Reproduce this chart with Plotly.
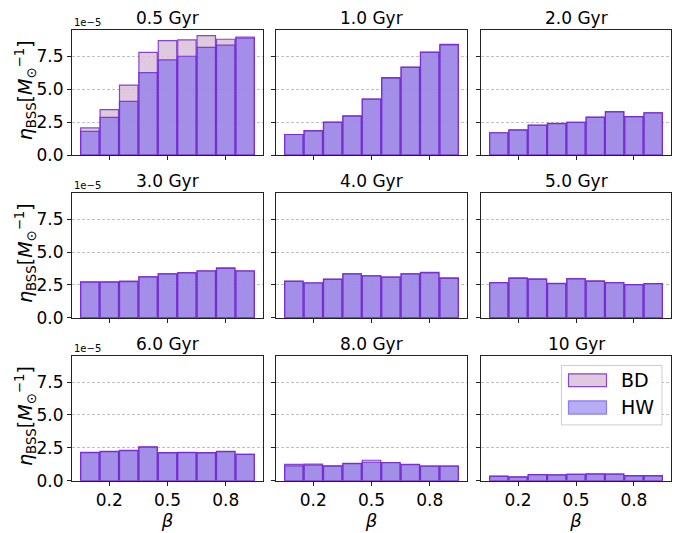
import plotly.graph_objects as go
from plotly.subplots import make_subplots

SCALE = 1e-5
beta = [0.1, 0.2, 0.3, 0.4, 0.5, 0.6, 0.7, 0.8, 0.9]
ages = ["0.5 Gyr", "1.0 Gyr", "2.0 Gyr", "3.0 Gyr", "4.0 Gyr", "5.0 Gyr", "6.0 Gyr", "8.0 Gyr", "10 Gyr"]

# values in units of 1e-5
bd_05 = [2.06, 3.45, 5.31, 7.80, 8.69, 8.74, 9.06, 8.79, 8.96]
hw_05 = [1.79, 2.86, 4.07, 6.26, 7.23, 7.50, 8.17, 8.34, 8.87]
bd_10 = [1.56, 1.86, 2.50, 2.97, 4.25, 5.88, 6.68, 7.82, 8.40]
hw_10 = [1.56, 1.84, 2.48, 2.95, 4.25, 5.84, 6.65, 7.80, 8.37]
bd_20 = [1.69, 1.91, 2.27, 2.40, 2.49, 2.88, 3.29, 2.92, 3.21]
hw_20 = [1.69, 1.89, 2.26, 2.38, 2.48, 2.86, 3.28, 2.91, 3.20]
bd_30 = [2.73, 2.73, 2.80, 3.12, 3.35, 3.44, 3.57, 3.80, 3.57]
hw_30 = [2.72, 2.72, 2.76, 3.12, 3.34, 3.41, 3.56, 3.76, 3.56]
bd_40 = [2.80, 2.67, 2.95, 3.35, 3.20, 3.10, 3.35, 3.46, 3.04]
hw_40 = [2.78, 2.65, 2.93, 3.34, 3.19, 3.09, 3.34, 3.42, 3.00]
bd_50 = [2.68, 3.04, 2.96, 2.62, 2.99, 2.82, 2.68, 2.53, 2.61]
hw_50 = [2.67, 3.00, 2.93, 2.60, 2.97, 2.77, 2.67, 2.52, 2.60]
bd_60 = [2.16, 2.23, 2.31, 2.58, 2.14, 2.16, 2.14, 2.23, 2.01]
hw_60 = [2.14, 2.21, 2.29, 2.56, 2.12, 2.14, 2.12, 2.21, 2.01]
bd_80 = [1.24, 1.26, 1.14, 1.32, 1.56, 1.39, 1.24, 1.12, 1.12]
hw_80 = [1.14, 1.19, 1.12, 1.30, 1.41, 1.37, 1.22, 1.12, 1.12]
bd_100 = [0.35, 0.30, 0.47, 0.45, 0.50, 0.52, 0.50, 0.40, 0.40]
hw_100 = [0.33, 0.28, 0.47, 0.45, 0.48, 0.50, 0.50, 0.38, 0.38]

bd_all = [bd_05, bd_10, bd_20, bd_30, bd_40, bd_50, bd_60, bd_80, bd_100]
hw_all = [hw_05, hw_10, hw_20, hw_30, hw_40, hw_50, hw_60, hw_80, hw_100]

y_ticks = [0.0, 2.5, 5.0, 7.5]
x_ticks = [0.2, 0.5, 0.8]

BD_FILL = "rgba(216,191,216,0.85)"
HW_FILL = "rgba(123,104,238,0.6)"
EDGE = "rgba(118,40,205,0.85)"
FONT = "DejaVu Sans"

W, H = 683, 533
col_px = [(72, 263), (276, 467), (481, 671)]
row_px = [(31, 158), (197, 324), (363, 490)]

fig = make_subplots(rows=3, cols=3)

for i in range(9):
    r, c = i // 3 + 1, i % 3 + 1
    fig.add_trace(go.Bar(x=beta, y=[v * SCALE for v in bd_all[i]], width=0.095,
                         marker=dict(color=BD_FILL, line=dict(color=EDGE, width=1.2)),
                         name="BD", showlegend=False), row=r, col=c)
    fig.add_trace(go.Bar(x=beta, y=[v * SCALE for v in hw_all[i]], width=0.095,
                         marker=dict(color=HW_FILL, line=dict(color=EDGE, width=1.2)),
                         name="HW", showlegend=False), row=r, col=c)

for i in range(9):
    r, c = i // 3, i % 3
    xn = "xaxis" if i == 0 else f"xaxis{i+1}"
    yn = "yaxis" if i == 0 else f"yaxis{i+1}"
    x0, x1 = col_px[c]
    y0, y1 = row_px[r]
    fig.layout[xn].update(
        domain=[x0 / W, x1 / W], range=[0.0078, 0.9922],
        tickvals=x_ticks, ticktext=[f"{t:.1f}" for t in x_ticks],
        showticklabels=(r == 2), ticks="outside", ticklen=4, tickcolor="#222",
        showline=True, mirror=True, linecolor="#222", linewidth=1.2,
        showgrid=False, zeroline=False,
        tickfont=dict(family=FONT, size=17, color="black"),
    )
    if r == 2:
        fig.layout[xn].update(title=dict(text="<i>β</i>", font=dict(family=FONT, size=18, color="black"), standoff=0))
    fig.layout[yn].update(
        domain=[1 - y1 / H, 1 - y0 / H], range=[0, 9.46 * SCALE],
        tickvals=[t * SCALE for t in y_ticks], ticktext=[f"{t:.1f}" for t in y_ticks],
        showticklabels=(c == 0), ticks="outside", ticklen=4, tickcolor="#222",
        showline=True, mirror=True, linecolor="#222", linewidth=1.2,
        showgrid=True, gridcolor="rgba(185,185,185,0.9)", griddash="3px,2px", gridwidth=0.8,
        zeroline=False,
        tickfont=dict(family=FONT, size=17, color="black"),
    )
    xd = "x domain" if i == 0 else f"x{i+1} domain"
    ydd = "y domain" if i == 0 else f"y{i+1} domain"
    fig.add_annotation(text=ages[i], xref=xd, yref=ydd, x=0.5, y=1.0, yanchor="bottom",
                       xanchor="center", showarrow=False, yshift=0,
                       font=dict(family=FONT, size=17, color="black"))
    if c == 0:
        fig.add_annotation(text="1e\u22125", xref=xd, yref=ydd, x=0, y=1.0, yanchor="bottom",
                           xanchor="left", showarrow=False, yshift=0,
                           font=dict(family=FONT, size=10, color="black"))
        fig.add_annotation(text="<i>η</i><sub>BSS</sub>[<i>M</i><sub>⊙</sub><sup>−1</sup>]",
                           xref="paper", yref=ydd, x=25 / W, y=0.52, xanchor="center", yanchor="middle",
                           textangle=-90, showarrow=False,
                           font=dict(family=FONT, size=19, color="black"))

# legend drawn in panel 9
lx, ly = "x9 domain", "y9 domain"
px0, px1 = col_px[2]
py0, py1 = row_px[2]
def dx(p):
    return (p - px0) / (px1 - px0)
def dy(p):
    return (py1 - p) / (py1 - py0)

fig.add_shape(type="rect", xref=lx, yref=ly, x0=dx(561.5), x1=dx(662), y0=dy(433), y1=dy(372.5),
              line=dict(color="rgba(205,205,205,1)", width=1), fillcolor="rgba(255,255,255,0.85)", layer="above")
fig.add_shape(type="rect", xref=lx, yref=ly, x0=dx(568.5), x1=dx(606.5), y0=dy(394), y1=dy(381),
              line=dict(color=EDGE, width=1.2), fillcolor=BD_FILL, layer="above")
fig.add_shape(type="rect", xref=lx, yref=ly, x0=dx(568.5), x1=dx(606.5), y0=dy(422), y1=dy(408.5),
              line=dict(color="rgba(123,104,238,0.8)", width=1.2), fillcolor="rgba(123,104,238,0.55)", layer="above")
fig.add_annotation(text="BD", xref=lx, yref=ly, x=dx(619), y=dy(387.5), xanchor="left", yanchor="middle",
                   showarrow=False, font=dict(family=FONT, size=19, color="black"))
fig.add_annotation(text="HW", xref=lx, yref=ly, x=dx(619), y=dy(415), xanchor="left", yanchor="middle",
                   showarrow=False, font=dict(family=FONT, size=19, color="black"))

fig.update_layout(
    width=W, height=H, barmode="overlay", showlegend=False,
    margin=dict(l=0, r=0, t=0, b=0),
    paper_bgcolor="white", plot_bgcolor="white",
    font=dict(family=FONT, size=17, color="black"),
)

fig.write_html("out.html")
